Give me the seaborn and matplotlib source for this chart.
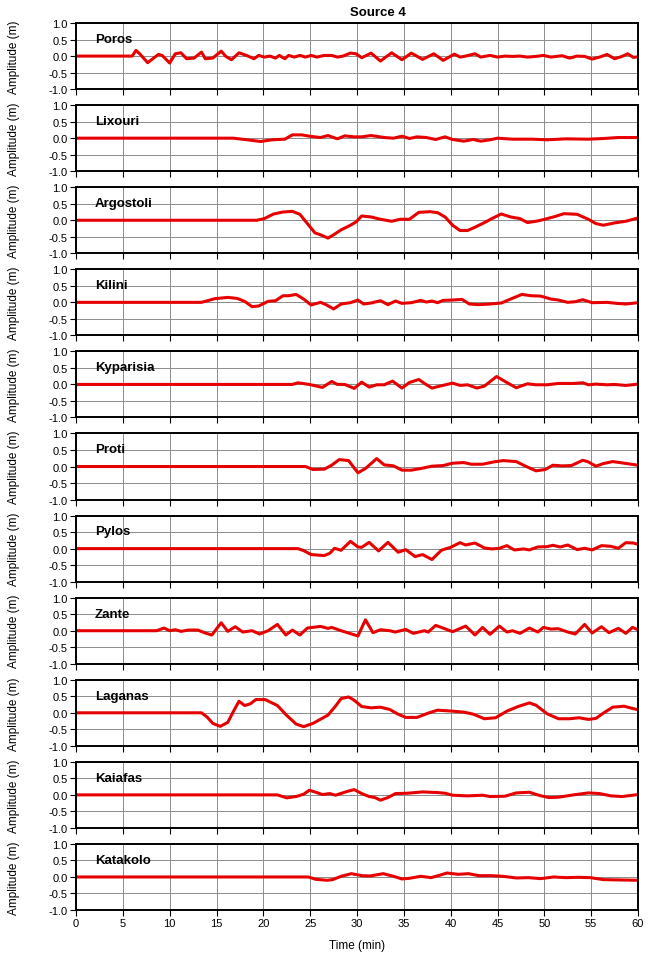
import numpy as np
import pandas as pd
import seaborn as sns
import matplotlib.pyplot as plt

# Source 4 - mareogramas digitalizados a mano (tiempo en min, amplitud en m)

stations = ['Poros', 'Lixouri', 'Argostoli', 'Kilini', 'Kyparisia', 'Proti',
            'Pylos', 'Zante', 'Laganas', 'Kaiafas', 'Katakolo']

t_poros = [0, 6.0, 6.4, 6.8, 7.65, 8.8, 9.2, 10.0, 10.6, 11.2, 11.8, 12.6, 13.4, 13.8, 14.6, 15.5,
           16.0, 16.6, 17.4, 18.2, 19.0, 19.5, 20.1, 20.7, 21.3, 21.7, 22.3, 22.7, 23.3, 23.9, 24.5,
           25.1, 25.7, 26.5, 27.3, 27.9, 28.5, 29.3, 29.9, 30.5, 31.5, 32.5, 33.7, 34.8, 35.8, 37.0,
           38.2, 39.2, 40.4, 41.0, 41.6, 42.6, 43.2, 44.2, 45.0, 45.8, 46.6, 47.4, 48.2, 49.1, 49.9,
           50.7, 51.9, 52.7, 53.5, 54.3, 55.1, 55.9, 56.7, 57.5, 58.3, 58.9, 59.5, 60]
a_poros = [0, 0, 0.17, 0.07, -0.2, 0.05, 0.02, -0.21, 0.07, 0.1, -0.08, -0.06, 0.12, -0.08, -0.06, 0.15,
           -0.01, -0.11, 0.1, 0.02, -0.08, 0.02, -0.03, 0.0, -0.06, 0.02, -0.08, 0.02, -0.03, 0.02, -0.03,
           0.02, -0.03, 0.02, 0.02, -0.03, 0.0, 0.09, 0.07, -0.05, 0.09, -0.15, 0.1, -0.11, 0.09, -0.1,
           0.07, -0.13, 0.06, -0.03, 0.0, 0.07, -0.03, 0.02, -0.03, 0.0, -0.01, 0.0, -0.03, -0.01, 0.02,
           -0.03, 0.01, -0.06, 0.0, -0.01, -0.09, -0.03, 0.05, -0.08, -0.01, 0.07, -0.04, -0.02]

t_lixouri = [0, 16.8, 18.3, 19.7, 20.9, 22.3, 23.1, 24.1, 24.9, 26.1, 26.9, 27.9, 28.7, 29.7, 30.5,
             31.5, 32.9, 33.9, 34.8, 35.6, 36.4, 37.4, 38.4, 39.4, 40.2, 41.4, 42.4, 43.2, 44.2, 45.0,
             46.6, 48.7, 50.3, 52.3, 54.7, 56.3, 57.9, 60]
a_lixouri = [0, 0, -0.05, -0.1, -0.05, -0.03, 0.1, 0.1, 0.06, 0.02, 0.08, -0.02, 0.07, 0.04, 0.04,
             0.08, 0.02, 0.0, 0.06, -0.01, 0.04, 0.02, -0.04, 0.04, -0.04, -0.09, -0.04, -0.09, -0.05, 0.0,
             -0.03, -0.03, -0.05, -0.02, -0.03, -0.01, 0.02, 0.02]

t_argostoli = [0, 19.3, 20.1, 21.1, 22.1, 23.1, 23.9, 24.7, 25.5, 26.1, 26.9, 27.5, 28.3, 29.3, 29.9,
               30.5, 31.5, 32.5, 33.7, 34.6, 35.6, 36.6, 37.8, 38.6, 39.4, 40.2, 41.0, 41.8, 42.6,
               43.6, 44.4, 45.4, 46.4, 47.4, 48.2, 49.3, 50.3, 51.1, 52.1, 53.5, 54.7, 55.5, 56.3,
               57.5, 58.7, 60]
a_argostoli = [0, 0, 0.05, 0.19, 0.25, 0.27, 0.18, -0.1, -0.38, -0.44, -0.54, -0.44, -0.29, -0.15, -0.05,
               0.13, 0.1, 0.03, -0.03, 0.03, 0.03, 0.24, 0.26, 0.23, 0.1, -0.15, -0.31, -0.31, -0.21,
               -0.07, 0.05, 0.19, 0.1, 0.05, -0.07, -0.02, 0.05, 0.11, 0.2, 0.18, 0.03, -0.1, -0.15,
               -0.08, -0.03, 0.07]

t_kilini = [0, 13.4, 14.8, 16.2, 17.2, 18.0, 18.8, 19.5, 20.5, 21.3, 22.1, 22.7, 23.5, 24.3, 25.1,
            26.1, 26.7, 27.5, 28.3, 29.3, 30.1, 30.7, 31.5, 32.5, 33.3, 34.1, 34.8, 35.8, 36.8, 37.4,
            38.0, 38.6, 39.2, 40.2, 41.2, 42.0, 43.0, 44.2, 45.4, 46.4, 47.6, 48.6, 49.6, 50.7, 51.5,
            52.5, 53.3, 54.1, 55.1, 56.7, 57.7, 58.7, 60]
a_kilini = [0, 0, 0.11, 0.15, 0.12, 0.03, -0.13, -0.11, 0.03, 0.05, 0.2, 0.2, 0.24, 0.1, -0.08,
            0.0, -0.07, -0.2, -0.05, -0.01, 0.07, -0.05, -0.02, 0.05, -0.07, 0.04, -0.03, -0.01, 0.06, 0.01,
            0.04, -0.01, 0.06, 0.07, 0.09, -0.05, -0.07, -0.05, -0.02, 0.1, 0.24, 0.2, 0.19, 0.1, 0.07,
            0.0, 0.02, 0.08, -0.01, 0.0, -0.03, -0.05, -0.01]

t_kyparisia = [0, 23.1, 23.7, 24.9, 26.3, 27.3, 27.9, 28.7, 29.7, 30.5, 31.3, 32.1, 32.9, 33.8, 34.8,
               35.6, 36.6, 37.2, 38.0, 39.0, 40.2, 41.0, 41.8, 42.8, 43.6, 44.9, 45.8, 47.0, 48.2,
               49.1, 50.3, 51.5, 53.1, 54.1, 54.7, 55.5, 56.7, 57.5, 58.7, 60]
a_kyparisia = [0, 0, 0.05, 0.0, -0.09, 0.09, 0.0, 0.0, -0.12, 0.07, -0.08, -0.01, -0.01, 0.1, -0.11,
               0.06, 0.15, 0.03, -0.11, -0.04, 0.04, -0.03, -0.01, -0.11, -0.05, 0.24, 0.09, -0.1, 0.02,
               -0.01, -0.01, 0.03, 0.03, 0.05, -0.01, 0.01, -0.01, 0.0, -0.03, 0.01]

t_proti = [0, 24.5, 25.3, 26.5, 27.3, 28.1, 29.1, 30.1, 30.9, 32.1, 32.9, 33.9, 34.8, 35.8, 36.8,
           38.0, 39.2, 40.2, 41.4, 42.2, 43.4, 44.6, 45.6, 47.0, 48.0, 49.1, 50.1, 50.9, 51.9, 52.9,
           54.1, 54.7, 55.5, 56.3, 57.3, 58.3, 60]
a_proti = [0, 0, -0.09, -0.08, 0.04, 0.21, 0.18, -0.19, -0.06, 0.24, 0.05, 0.02, -0.11, -0.11, -0.06,
           0.01, 0.03, 0.1, 0.12, 0.07, 0.07, 0.14, 0.18, 0.15, 0.01, -0.13, -0.09, 0.04, 0.02, 0.03,
           0.19, 0.14, 0.01, 0.09, 0.15, 0.11, 0.04]

t_pylos = [0, 23.7, 24.3, 25.1, 26.5, 27.1, 27.6, 28.3, 29.3, 30.1, 30.5, 31.3, 32.3, 33.3, 34.4,
           35.2, 36.2, 37.0, 38.0, 39.0, 40.0, 41.0, 41.6, 42.6, 43.6, 44.4, 45.2, 46.0, 46.8, 47.8,
           48.4, 49.3, 50.3, 50.9, 51.7, 52.5, 53.5, 54.3, 55.1, 56.1, 57.1, 57.9, 58.7, 59.5, 60]
a_pylos = [0, 0, -0.06, -0.18, -0.21, -0.14, 0.01, -0.05, 0.22, 0.05, 0.04, 0.19, -0.07, 0.19, -0.11,
           -0.03, -0.24, -0.18, -0.33, -0.05, 0.04, 0.18, 0.11, 0.17, 0.02, -0.01, 0.01, 0.09, -0.04, -0.01,
           -0.04, 0.05, 0.06, 0.1, 0.05, 0.11, -0.03, 0.01, -0.04, 0.09, 0.07, 0.01, 0.18, 0.17, 0.13]

t_zante = [0, 8.6, 9.4, 10.0, 10.6, 11.2, 12.0, 13.0, 13.8, 14.5, 15.5, 16.2, 17.0, 17.8, 18.8,
           19.6, 20.5, 21.5, 22.4, 23.1, 23.9, 24.7, 26.1, 26.9, 27.3, 28.3, 29.1, 30.1, 30.9, 31.7,
           32.5, 33.5, 34.1, 35.2, 36.0, 37.2, 37.6, 38.4, 39.0, 40.2, 41.6, 42.6, 43.4, 44.2, 45.2,
           46.0, 46.6, 47.4, 48.4, 49.3, 49.9, 50.7, 51.5, 52.5, 53.3, 54.3, 55.1, 56.1, 56.9, 57.9,
           58.7, 59.4, 60]
a_zante = [0, 0, 0.08, 0.0, 0.03, -0.02, 0.02, 0.02, -0.07, -0.13, 0.24, -0.02, 0.12, -0.04, 0.0,
           -0.1, 0.0, 0.19, -0.13, 0.02, -0.13, 0.08, 0.13, 0.07, 0.1, 0.0, -0.07, -0.16, 0.33, -0.06,
           0.03, 0.0, -0.04, 0.04, -0.08, 0.0, -0.04, 0.16, 0.1, -0.03, 0.14, -0.13, 0.1, -0.11, 0.14,
           -0.04, 0.0, -0.08, 0.08, -0.04, 0.1, 0.05, 0.06, -0.04, -0.1, 0.19, -0.07, 0.12, -0.06, 0.07,
           -0.08, 0.1, 0.03]

t_laganas = [0, 13.4, 14.0, 14.6, 15.4, 16.2, 16.8, 17.4, 18.0, 18.6, 19.2, 20.2, 21.5, 22.5, 23.5,
             24.3, 25.3, 26.9, 27.7, 28.3, 29.1, 29.7, 30.5, 31.5, 32.5, 33.5, 34.3, 35.2, 36.4, 37.6,
             38.6, 40.2, 41.4, 42.4, 43.6, 44.8, 46.0, 47.2, 48.4, 49.1, 50.3, 51.5, 52.7, 53.7, 54.7,
             55.5, 56.3, 57.3, 58.5, 59.3, 60]
a_laganas = [0, 0, -0.13, -0.32, -0.41, -0.29, 0.04, 0.35, 0.22, 0.27, 0.4, 0.4, 0.22, -0.08, -0.34,
             -0.42, -0.32, -0.07, 0.2, 0.43, 0.48, 0.38, 0.19, 0.15, 0.17, 0.1, -0.03, -0.14, -0.14, -0.01,
             0.08, 0.05, 0.02, -0.04, -0.18, -0.15, 0.05, 0.19, 0.3, 0.23, -0.03, -0.18, -0.18, -0.15, -0.2,
             -0.17, -0.01, 0.17, 0.2, 0.14, 0.09]

t_kaiafas = [0, 21.5, 22.5, 23.5, 24.3, 24.9, 25.5, 26.3, 27.1, 27.7, 28.9, 29.7, 30.5, 31.3, 31.9,
             32.5, 33.3, 34.1, 35.4, 37.0, 38.6, 39.4, 40.2, 41.8, 43.4, 44.2, 45.8, 47.0, 48.4, 49.5,
             50.5, 51.5, 53.1, 54.7, 55.9, 57.1, 58.3, 60]
a_kaiafas = [0, 0, -0.09, -0.05, 0.02, 0.14, 0.09, 0.01, 0.04, -0.01, 0.1, 0.16, 0.04, -0.05, -0.08,
             -0.16, -0.08, 0.04, 0.05, 0.09, 0.07, 0.05, -0.01, -0.03, -0.01, -0.05, -0.04, 0.06, 0.08, -0.02,
             -0.08, -0.07, 0.0, 0.06, 0.04, -0.03, -0.05, 0.01]

t_katakolo = [0, 24.8, 25.6, 26.8, 27.4, 28.3, 29.4, 30.5, 31.4, 32.8, 33.9, 34.8, 35.6, 36.8, 37.9,
              38.8, 39.6, 40.8, 41.9, 43.0, 44.3, 45.6, 47.0, 48.3, 49.6, 51.0, 52.3, 53.6, 54.9,
              56.3, 58.1, 60]
a_katakolo = [0, 0, -0.07, -0.1, -0.08, 0.02, 0.1, 0.04, 0.03, 0.1, 0.02, -0.06, -0.04, 0.02, -0.02,
              0.05, 0.12, 0.08, 0.1, 0.04, 0.04, 0.02, -0.03, -0.02, -0.05, 0.0, -0.02, -0.01, -0.02,
              -0.08, -0.09, -0.1]

times = [t_poros, t_lixouri, t_argostoli, t_kilini, t_kyparisia, t_proti,
         t_pylos, t_zante, t_laganas, t_kaiafas, t_katakolo]
amps = [a_poros, a_lixouri, a_argostoli, a_kilini, a_kyparisia, a_proti,
        a_pylos, a_zante, a_laganas, a_kaiafas, a_katakolo]

x_ticks = list(range(0, 61, 5))
y_ticks = [-1.0, -0.5, 0.0, 0.5, 1.0]

sns.set_style('ticks')
plt.rcParams['font.family'] = ['Liberation Sans', 'DejaVu Sans']
# el estilo de seaborn pone el texto en gris oscuro; el original va en negro
plt.rcParams['text.color'] = 'black'
plt.rcParams['axes.labelcolor'] = 'black'
plt.rcParams['xtick.color'] = 'black'
plt.rcParams['ytick.color'] = 'black'

fig, axes = plt.subplots(len(stations), 1, figsize=(6.48, 9.62), dpi=100, sharex=True)
fig.subplots_adjust(left=0.1173, right=0.9846, top=0.975, bottom=0.053, hspace=0.2424)

for ax, name, t, a in zip(axes, stations, times, amps):
    df = pd.DataFrame({'Time (min)': t, 'Amplitude (m)': a})
    sns.lineplot(data=df, x='Time (min)', y='Amplitude (m)', ax=ax,
                 color='#e60000', lw=2.2, sort=False,
                 solid_joinstyle='round', solid_capstyle='round')
    ax.set_xlim(0, 60)
    ax.set_ylim(-1.0, 1.0)
    ax.set_xticks(x_ticks)
    ax.set_yticks(y_ticks)
    ax.set_yticklabels(['%.1f' % v for v in y_ticks])
    ax.grid(True, color='#8c8c8c', lw=0.7)
    ax.set_axisbelow(True)
    for s in ax.spines.values():
        s.set_linewidth(1.4)
        s.set_color('black')
    ax.tick_params(direction='out', length=4, width=0.8, labelsize=8, pad=2)
    ax.set_ylabel('Amplitude (m)', fontsize=8.5)
    ax.yaxis.set_label_coords(-0.1, 0.5)
    ax.set_xlabel('')
    ax.text(0.034, 0.76, name, transform=ax.transAxes, fontsize=9.5,
            fontweight='bold', va='center', ha='left', color='black')

axes[-1].set_xlabel('Time (min)', fontsize=8.5, labelpad=8)
fig.text(0.583, 0.987, 'Source 4', ha='center', va='center', fontsize=9.5,
         fontweight='bold', color='black')

plt.savefig('out.png', dpi=100)
